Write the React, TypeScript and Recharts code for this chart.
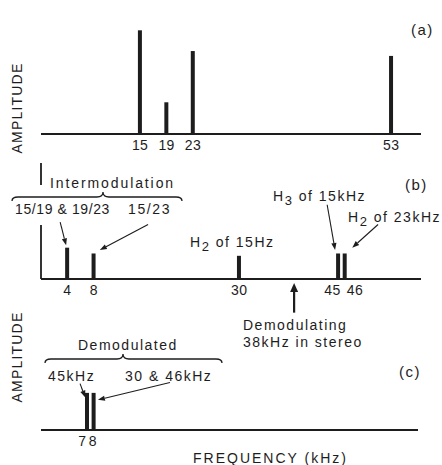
import React from "react";
import { BarChart, Bar, XAxis, YAxis, ReferenceLine } from "recharts";

const INK = "#1d1d1d";
const FONT = "'Liberation Sans', Arial, sans-serif";

// (a) the three test tones plus the 53k product
const freqA = [15, 19, 23, 53];
const ampA = [85, 26, 68, 64];

// (b) what comes out of the decoder
const freqB = [4, 8, 30, 45, 46];
const ampB = [27, 22, 20, 22, 22];

// (c) after demodulation
const freqC = [7, 8];
const ampC = [32, 32];

const ticksA = [15, 19, 23, 53];
const ticksB = [4, 8, 30, 45, 46];
const ticksC = [7, 8];

// labels of neighbouring ticks are pushed apart in the original drawing
const tickNudgeB: Record<number, number> = { 45: -6, 46: 10 };
const tickNudgeC: Record<number, number> = { 7: -5, 8: -1 };

// annotation arrows, [tail, head] in data units (kHz, amplitude)
const arrowsB = [
  [[2.9, 49], [3.8, 29]],
  [[16.2, 47], [8.9, 25]],
  [[43.3, 64], [44.5, 25]],
  [[51, 47], [47.1, 27]],
];
const pilotArrow = [[38.3, -29], [38.3, -3.4]];
const arrowsC = [
  [[5.9, 40], [6.7, 28]],
  [[19.5, 41], [8.6, 26]],
];

const rows = (f: number[], a: number[]) => f.map((v, i) => ({ f: v, amp: a[i] }));

const makeArrow = (w: number, len: number, half: number) => (p: any) => {
  const { x1, y1, x2, y2 } = p;
  const ang = Math.atan2(y2 - y1, x2 - x1);
  const bx = x2 - len * Math.cos(ang);
  const by = y2 - len * Math.sin(ang);
  const nx = half * Math.sin(ang);
  const ny = half * Math.cos(ang);
  return (
    <g>
      <line x1={x1} y1={y1} x2={bx} y2={by} stroke={INK} strokeWidth={w} />
      <polygon points={`${x2},${y2} ${bx + nx},${by - ny} ${bx - nx},${by + ny}`} fill={INK} />
    </g>
  );
};
const thinArrow = makeArrow(1.1, 7, 2.6);
const fatArrow = makeArrow(2.2, 9, 4);

const axisStroke = { stroke: INK, strokeWidth: 1.8 };

const makeTick = (nudge: Record<number, number>) => (p: any) => {
  const v = p.payload.value;
  return (
    <text
      x={p.x + (nudge[v] || 0)}
      y={p.y}
      dy="0.71em"
      textAnchor="middle"
      fill={INK}
      fontSize={14}
      fontFamily={FONT}
      letterSpacing={0.4}
    >
      {v}
    </text>
  );
};

function Spectrum({
  data,
  ticks,
  nudge = {},
  xMax,
  width,
  height,
  margin,
  showYAxis = true,
  children,
}: any) {
  return (
    <BarChart width={width} height={height} data={data} margin={margin}>
      <XAxis
        dataKey="f"
        type="number"
        domain={[0, xMax]}
        ticks={ticks}
        interval={0}
        tickLine={false}
        tickSize={4}
        axisLine={axisStroke}
        tick={makeTick(nudge)}
        height={20}
      />
      <YAxis
        type="number"
        domain={[0, 100]}
        width={0}
        tick={false}
        tickLine={false}
        axisLine={showYAxis ? axisStroke : false}
      />
      <Bar dataKey="amp" fill={INK} barSize={4} isAnimationActive={false} />
      {children}
    </BarChart>
  );
}

const label = { fontFamily: FONT, fontSize: 14, fill: INK, letterSpacing: 1.5 };

export default function App() {
  return (
    <div style={{ position: "absolute", left: 0, top: 0, width: 442, height: 465, background: "#fff", overflow: "hidden" }}>
      <div style={{ position: "absolute", left: 0, top: 0 }}>
        <Spectrum
          data={rows(freqA, ampA)}
          ticks={ticksA}
          xMax={57.5}
          width={442}
          height={160}
          margin={{ top: 12, right: 21, bottom: 6, left: 41 }}
        />
      </div>
      <div style={{ position: "absolute", left: 0, top: 150 }}>
        <Spectrum
          data={rows(freqB, ampB)}
          ticks={ticksB}
          nudge={tickNudgeB}
          xMax={57.5}
          width={442}
          height={190}
          margin={{ top: 13, right: 21, bottom: 41, left: 41 }}
          showYAxis={false}
        >
          <ReferenceLine segment={[{ x: 0, y: 100 }, { x: 0, y: 81 }]} stroke={INK} strokeWidth={1.8} ifOverflow="visible" />
          <ReferenceLine segment={[{ x: 0, y: 46.6 }, { x: 0, y: 0 }]} stroke={INK} strokeWidth={1.8} ifOverflow="visible" />
          {arrowsB.map(([t, h], i) => (
            <ReferenceLine
              key={i}
              segment={[{ x: t[0], y: t[1] }, { x: h[0], y: h[1] }]}
              ifOverflow="visible"
              shape={thinArrow}
            />
          ))}
          <ReferenceLine
            segment={[{ x: pilotArrow[0][0], y: pilotArrow[0][1] }, { x: pilotArrow[1][0], y: pilotArrow[1][1] }]}
            ifOverflow="visible"
            shape={fatArrow}
          />
        </Spectrum>
      </div>
      <div style={{ position: "absolute", left: 0, top: 300 }}>
        <Spectrum
          data={rows(freqC, ampC)}
          ticks={ticksC}
          nudge={tickNudgeC}
          xMax={57}
          width={442}
          height={150}
          margin={{ top: 14, right: 24, bottom: 0, left: 41 }}
        >
          {arrowsC.map(([t, h], i) => (
            <ReferenceLine
              key={i}
              segment={[{ x: t[0], y: t[1] }, { x: h[0], y: h[1] }]}
              ifOverflow="visible"
              shape={thinArrow}
            />
          ))}
        </Spectrum>
      </div>

      <svg width={442} height={465} style={{ position: "absolute", left: 0, top: 0, pointerEvents: "none" }}>
        <text x={411} y={35} {...label} fontSize={15}>(a)</text>
        <text x={405} y={190} {...label} fontSize={15}>(b)</text>
        <text x={399} y={377} {...label} fontSize={15}>(c)</text>

        <text transform="translate(22,108) rotate(-90)" textAnchor="middle" {...label} letterSpacing={1.2}>AMPLITUDE</text>
        <text transform="translate(22,357) rotate(-90)" textAnchor="middle" {...label} letterSpacing={1.2}>AMPLITUDE</text>

        <text x={50} y={188} {...label} letterSpacing={1.9}>Intermodulation</text>
        <path d="M12,201 Q12,197 18,197 L97,197 Q103,197 103,192 Q103,197 109,197 L176,197 Q182,197 182,201" fill="none" stroke={INK} strokeWidth={1.3} />
        <text x={15} y={214} {...label} letterSpacing={0.6}>15/19 &amp; 19/23</text>
        <text x={128} y={214} {...label} letterSpacing={1.6}>15/23</text>

        <text x={273} y={201} {...label}>
          H<tspan dy={4} fontSize={13}>3</tspan><tspan dy={-4}> of 15kHz</tspan>
        </text>
        <text x={348} y={222} {...label}>
          H<tspan dy={4} fontSize={13}>2</tspan><tspan dy={-4}> of 23kHz</tspan>
        </text>
        <text x={190} y={247} {...label}>
          H<tspan dy={4} fontSize={13}>2</tspan><tspan dy={-4}> of 15Hz</tspan>
        </text>

        <text x={243} y={330} {...label}>Demodulating</text>
        <text x={243} y={347} {...label}>38kHz in stereo</text>

        <text x={78} y={350} {...label}>Demodulated</text>
        <path d="M45,363 Q45,359 51,359 L117,359 Q123,359 123,354 Q123,359 129,359 L216,359 Q222,359 222,363" fill="none" stroke={INK} strokeWidth={1.3} />
        <text x={48} y={381} {...label}>45kHz</text>
        <text x={125} y={381} {...label}>30 &amp; 46kHz</text>

        <text x={193} y={463} {...label} letterSpacing={2}>FREQUENCY (kHz)</text>
      </svg>
    </div>
  );
}
